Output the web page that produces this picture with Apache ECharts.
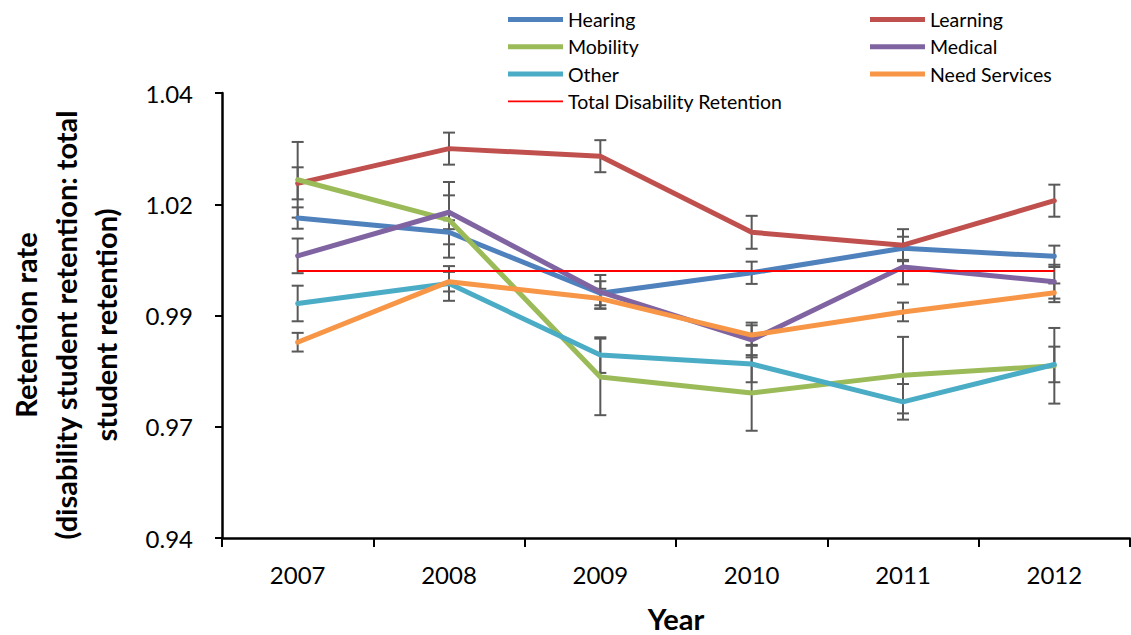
<!DOCTYPE html>
<html>
<head>
<meta charset="utf-8">
<script src="https://cdn.jsdelivr.net/npm/echarts@6/dist/echarts.min.js"></script>
<style>
  html, body { margin: 0; padding: 0; background: #ffffff; }
  #chart { width: 1131px; height: 635px; }
</style>
</head>
<body>
<div id="chart"></div>
<script>
// Years on the category axis
const years = ['2007', '2008', '2009', '2010', '2011', '2012'];
// Value-axis tick labels (ticks every 0.025 from 0.94, shown to two decimals)
const yTickLabels = ['0.94', '0.97', '0.99', '1.02', '1.04'];
// Value-axis title, one entry per line
const yTitleLines = ['Retention rate', '(disability student retention: total', 'student retention)'];

// Retention ratio by disability type
const hearing      = [1.0119, 1.0087, 0.9950, 0.9996, 1.0051, 1.0033];
const learning     = [1.0197, 1.0275, 1.0258, 1.0087, 1.0058, 1.0158];
const mobility     = [1.0205, 1.0115, 0.9762, 0.9726, 0.9766, 0.9787];
const medical      = [1.0034, 1.0132, 0.9953, 0.9845, 1.0009, 0.9976];
const other        = [0.9927, 0.9972, 0.9811, 0.9791, 0.9706, 0.9790];
const needServices = [0.9840, 0.9976, 0.9938, 0.9856, 0.9908, 0.9951];
const totalRetention = [1.0, 1.0, 1.0, 1.0, 1.0, 1.0];

// Error-bar half widths (±) for each type
const hearingErr      = [0.0024, 0.0027, 0.0027, 0.0025, 0.0026, 0.0024];
const learningErr     = [0.0036, 0.0036, 0.0036, 0.0037, 0.0036, 0.0036];
const mobilityErr     = [0.0085, 0.0085, 0.0086, 0.0085, 0.0086, 0.0085];
const medicalErr      = [0.0039, 0.0038, 0.0038, 0.0039, 0.0039, 0.0038];
const otherErr        = [0.0040, 0.0039, 0.0040, 0.0041, 0.0040, 0.0040];
const needServicesErr = [0.0021, 0.0022, 0.0022, 0.0022, 0.0021, 0.0021];

const FONT = 'Lato';

const groups = [
  { name: 'Hearing',       color: '#4F81BD', values: hearing,      err: hearingErr },
  { name: 'Learning',      color: '#C0504D', values: learning,     err: learningErr },
  { name: 'Mobility',      color: '#9BBB59', values: mobility,     err: mobilityErr },
  { name: 'Medical',       color: '#8064A2', values: medical,      err: medicalErr },
  { name: 'Other',         color: '#4BACC6', values: other,        err: otherErr },
  { name: 'Need Services', color: '#F79646', values: needServices, err: needServicesErr }
];

// Vertical error bar with caps, placed through the grid's own coordinate system
function renderErrorBar(params, api) {
  const x = api.value(0);
  const lo = api.coord([x, api.value(1)]);
  const hi = api.coord([x, api.value(2)]);
  const cap = 6;
  const style = { stroke: '#595959', lineWidth: 2 };
  return {
    type: 'group',
    children: [
      { type: 'line', shape: { x1: hi[0], y1: hi[1], x2: lo[0], y2: lo[1] }, style: style },
      { type: 'line', shape: { x1: hi[0] - cap, y1: hi[1], x2: hi[0] + cap, y2: hi[1] }, style: style },
      { type: 'line', shape: { x1: lo[0] - cap, y1: lo[1], x2: lo[0] + cap, y2: lo[1] }, style: style }
    ]
  };
}

const series = [];
groups.forEach(function (g) {
  series.push({
    name: g.name + ' error',
    type: 'custom',
    z: 1,
    silent: true,
    renderItem: renderErrorBar,
    encode: { x: 0, y: [1, 2] },
    data: g.values.map(function (v, i) { return [i, v - g.err[i], v + g.err[i]]; })
  });
});
groups.forEach(function (g) {
  series.push({
    name: g.name,
    type: 'line',
    z: 2,
    symbol: 'none',
    color: g.color,
    lineStyle: { color: g.color, width: 5, cap: 'round', join: 'round' },
    data: g.values
  });
});
series.push({
  name: 'Total Disability Retention',
  type: 'line',
  z: 3,
  symbol: 'none',
  color: '#FF0000',
  lineStyle: { color: '#FF0000', width: 2 },
  data: totalRetention
});

const thickIcon = 'path://M0 0H55V5H0Z';
const thinIcon = 'path://M0 1.6H55V3.4H0Z';
const legendBase = {
  orient: 'vertical',
  top: 8.5,
  padding: 0,
  itemWidth: 55,
  itemHeight: 5,
  itemGap: 5.3,
  itemStyle: { borderWidth: 0 },
  textStyle: { fontFamily: FONT, fontSize: 19.5, color: '#000000', lineHeight: 22 }
};

const option = {
  animation: false,
  backgroundColor: '#ffffff',
  grid: { left: 222, right: 1, top: 93, bottom: 97, containLabel: false, outerBoundsMode: 'none' },
  legend: [
    Object.assign({}, legendBase, {
      left: 508,
      data: [
        { name: 'Hearing', icon: thickIcon },
        { name: 'Mobility', icon: thickIcon },
        { name: 'Other', icon: thickIcon },
        { name: 'Total Disability Retention', icon: thinIcon }
      ]
    }),
    Object.assign({}, legendBase, {
      left: 870,
      data: [
        { name: 'Learning', icon: thickIcon },
        { name: 'Medical', icon: thickIcon },
        { name: 'Need Services', icon: thickIcon }
      ]
    })
  ],
  // Rotated value-axis title
  graphic: [{
    type: 'text',
    x: 65,
    y: 325,
    rotation: Math.PI / 2,
    silent: true,
    style: {
      text: yTitleLines.join('\n'),
      fontFamily: FONT,
      fontSize: 29,
      fontWeight: 'bold',
      fill: '#000000',
      lineHeight: 40,
      align: 'center',
      verticalAlign: 'middle'
    }
  }],
  xAxis: {
    type: 'category',
    data: years,
    boundaryGap: true,
    name: 'Year',
    nameLocation: 'middle',
    nameGap: 66,
    nameTextStyle: { fontFamily: FONT, fontSize: 29, fontWeight: 'bold', color: '#000000' },
    axisLine: { lineStyle: { color: '#000000', width: 2.5 } },
    axisTick: { show: true, alignWithLabel: false, inside: false, length: 9, lineStyle: { color: '#000000', width: 2 } },
    axisLabel: { margin: 24, fontFamily: FONT, fontSize: 24, color: '#000000' },
    splitLine: { show: false }
  },
  yAxis: {
    type: 'value',
    min: 0.94,
    max: 1.04,
    interval: 0.025,
    axisLine: { show: true, lineStyle: { color: '#000000', width: 2.5 } },
    axisTick: { show: true, inside: false, length: 7, lineStyle: { color: '#000000', width: 2 } },
    axisLabel: {
      margin: 29,
      fontFamily: FONT,
      fontSize: 24,
      color: '#000000',
      formatter: function (v) { return yTickLabels[Math.round((v - 0.94) / 0.025)]; }
    },
    splitLine: { show: false }
  },
  series: series
};

const chart = echarts.init(document.getElementById('chart'), null, { renderer: 'svg' });
chart.setOption(option);
</script>
</body>
</html>
